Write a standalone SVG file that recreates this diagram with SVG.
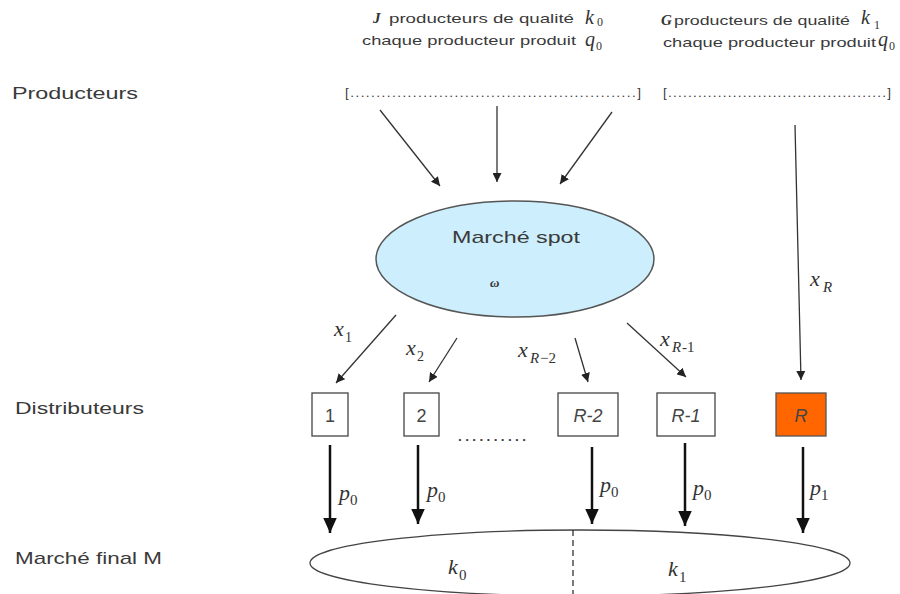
<svg xmlns="http://www.w3.org/2000/svg" width="900" height="594" viewBox="0 0 900 594">
<style>
.lbl{font-family:"Liberation Sans",Arial,sans-serif;font-size:17px;fill:#3a3a3a}
.top{font-family:"Liberation Sans",Arial,sans-serif;font-size:13.5px;fill:#3a3a3a}
.m{font-family:"Liberation Serif","Times New Roman",serif;font-style:italic;fill:#333}
.sub{font-family:"Liberation Serif","Times New Roman",serif;fill:#333}
.thin{stroke:#333;stroke-width:1.3;fill:none}
.thick{stroke:#111;stroke-width:2.5;fill:none}
.box{fill:#fff;stroke:#444;stroke-width:1.3}
.bx{font-family:"Liberation Sans",Arial,sans-serif;font-size:18px;fill:#444;text-anchor:middle}
</style>
<defs>
<marker id="a" viewBox="0 0 10 10" refX="10" refY="5" markerWidth="9" markerHeight="9" markerUnits="userSpaceOnUse" orient="auto"><path d="M0,0L10,5L0,10z" fill="#222"/></marker>
<marker id="b" viewBox="0 0 10 10" refX="10" refY="5" markerWidth="6" markerHeight="6" orient="auto"><path d="M0,0.5L10,5L0,9.5z" fill="#111"/></marker>
</defs>
<rect width="900" height="594" fill="#fff"/>
<g id="labels">
<text class="lbl" x="12" y="99" textLength="126" lengthAdjust="spacingAndGlyphs">Producteurs</text>
<text class="lbl" x="15" y="414" textLength="129" lengthAdjust="spacingAndGlyphs">Distributeurs</text>
<text class="lbl" x="15" y="564" textLength="147" lengthAdjust="spacingAndGlyphs">Marché final M</text>
</g>
<g id="producers-j">
<text x="373" y="23" class="m" font-weight="bold" font-size="15">J</text>
<text class="top" x="389" y="23" textLength="185" lengthAdjust="spacingAndGlyphs">producteurs de qualité</text>
<text x="585" y="24" class="m" font-size="20">k</text><text x="597" y="26" class="sub" font-size="12">0</text>
<text class="top" x="362" y="45" textLength="214" lengthAdjust="spacingAndGlyphs">chaque producteur produit</text>
<text x="585" y="46" class="m" font-size="20">q</text><text x="596" y="50" class="sub" font-size="12">0</text>
<text class="top" x="345" y="97" textLength="296" lengthAdjust="spacing">[.......................................................]</text>
</g>
<g id="producers-g">
<text x="661" y="25" class="m" font-weight="bold" font-size="15">G</text>
<text class="top" x="674" y="25" textLength="176" lengthAdjust="spacingAndGlyphs">producteurs de qualité</text>
<text x="861" y="24" class="m" font-size="20">k</text><text x="874" y="29" class="sub" font-size="12">1</text>
<text class="top" x="663" y="47" textLength="213" lengthAdjust="spacingAndGlyphs">chaque producteur produit</text>
<text x="878" y="46" class="m" font-size="20">q</text><text x="889" y="50" class="sub" font-size="12">0</text>
<text class="top" x="663" y="97" textLength="228" lengthAdjust="spacing">[............................................]</text>
</g>
<g id="spot">
<ellipse cx="515" cy="259" rx="139" ry="58" fill="#cdeefc" stroke="#555" stroke-width="1.5"/>
<text x="516" y="243" text-anchor="middle" class="lbl" font-size="18" textLength="128" lengthAdjust="spacingAndGlyphs">Marché spot</text>
<text x="490" y="287" class="m" font-size="13" font-weight="bold">ω</text>
</g>
<g id="d1"><rect class="box" x="312" y="393" width="36" height="43"/><text class="bx" x="330" y="422">1</text></g>
<g id="d2"><rect class="box" x="404" y="393" width="35" height="43"/><text class="bx" x="421.5" y="422">2</text></g>
<g id="dR2"><rect class="box" x="558" y="393" width="60" height="43"/><text class="bx" x="588" y="422" font-style="italic">R-2</text></g>
<g id="dR1"><rect class="box" x="657" y="393" width="58" height="43"/><text class="bx" x="686" y="422" font-style="italic">R-1</text></g>
<g id="dR"><rect x="776" y="393" width="50" height="43" fill="#ff6600" stroke="#555" stroke-width="1.3"/><text class="bx" x="801" y="422" font-style="italic" fill="#333">R</text></g>
<text x="458" y="441" class="top" font-size="16" textLength="68" lengthAdjust="spacing" font-weight="bold">..........</text>
<g id="final">
<ellipse cx="580" cy="563" rx="270" ry="33" fill="#fff" stroke="#444" stroke-width="1.3"/>
<line x1="573" y1="530" x2="573" y2="596" stroke="#333" stroke-width="1.3" stroke-dasharray="6,4"/>
<text x="448" y="574" class="m" font-size="22">k</text><text x="459" y="580" class="sub" font-size="15">0</text>
<text x="668" y="576" class="m" font-size="22">k</text><text x="679" y="582" class="sub" font-size="15">1</text>
</g>
<g id="connectors">
<line class="thin" x1="380" y1="110" x2="440" y2="186" marker-end="url(#a)"/>
<line class="thin" x1="497" y1="106" x2="497" y2="182" marker-end="url(#a)"/>
<line class="thin" x1="612" y1="112" x2="560" y2="184" marker-end="url(#a)"/>
<line class="thin" x1="795" y1="125" x2="801" y2="380" marker-end="url(#a)"/>
<line class="thin" x1="396" y1="315" x2="336" y2="383" marker-end="url(#a)"/>
<line class="thin" x1="457" y1="338" x2="429" y2="382" marker-end="url(#a)"/>
<line class="thin" x1="575" y1="338" x2="588" y2="382" marker-end="url(#a)"/>
<line class="thin" x1="627" y1="323" x2="686" y2="377" marker-end="url(#a)"/>
<line class="thick" x1="330" y1="445" x2="330" y2="533" marker-end="url(#b)"/>
<line class="thick" x1="418" y1="445" x2="418" y2="524" marker-end="url(#b)"/>
<line class="thick" x1="592" y1="447" x2="592" y2="524" marker-end="url(#b)"/>
<line class="thick" x1="685" y1="443" x2="685" y2="526" marker-end="url(#b)"/>
<line class="thick" x1="803" y1="447" x2="803" y2="533" marker-end="url(#b)"/>
</g>
<g id="edge-labels">
<text x="334" y="336" class="m" font-size="22">x</text><text x="345" y="342" class="sub" font-size="14">1</text>
<text x="406" y="355" class="m" font-size="22">x</text><text x="417" y="361" class="sub" font-size="14">2</text>
<text x="518" y="357" class="m" font-size="22">x</text><text x="530" y="363" class="m" font-size="15">R</text><text x="540" y="363" class="sub" font-size="15">−2</text>
<text x="660" y="346" class="m" font-size="22">x</text><text x="672" y="352" class="m" font-size="15">R</text><text x="682" y="352" class="sub" font-size="15">-1</text>
<text x="810" y="286" class="m" font-size="22">x</text><text x="823" y="292" class="m" font-size="15">R</text>
<text x="339" y="500" class="m" font-size="22">p</text><text x="350" y="505" class="sub" font-size="15">0</text>
<text x="427" y="497" class="m" font-size="22">p</text><text x="438" y="502" class="sub" font-size="15">0</text>
<text x="600" y="492" class="m" font-size="22">p</text><text x="611" y="497" class="sub" font-size="15">0</text>
<text x="693" y="495" class="m" font-size="22">p</text><text x="704" y="500" class="sub" font-size="15">0</text>
<text x="810" y="495" class="m" font-size="22">p</text><text x="821" y="500" class="sub" font-size="15">1</text>
</g>
</svg>
